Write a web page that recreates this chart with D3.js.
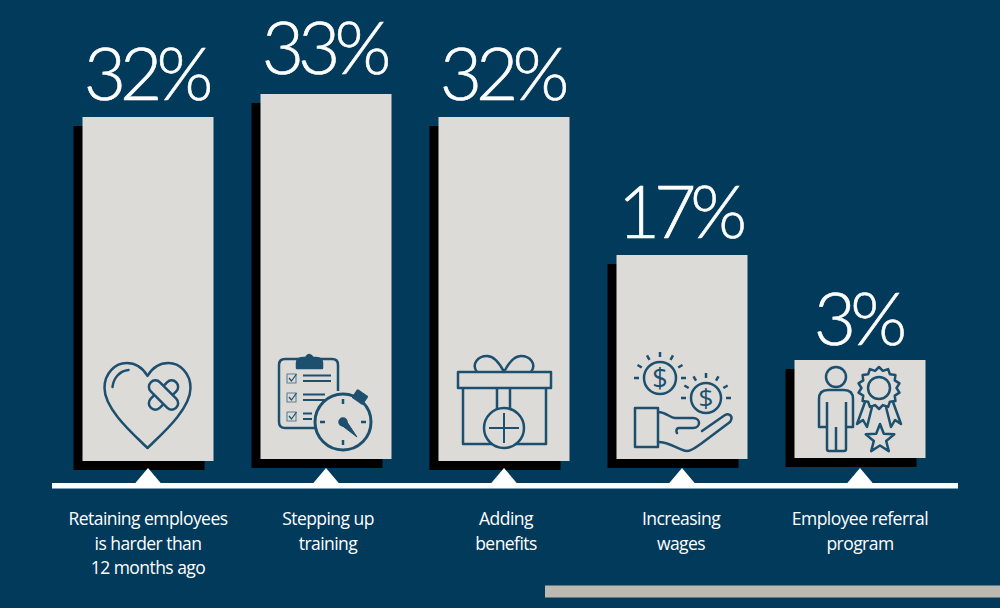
<!DOCTYPE html>
<html><head><meta charset="utf-8">
<script src="https://cdn.jsdelivr.net/npm/d3@7/dist/d3.min.js"></script>
<style>html,body{margin:0;padding:0;background:#023a5c}svg{display:block}</style>
</head><body><svg id="c" width="1000" height="608"></svg>
<script>
const categories=["Retaining employees|is harder than|12 months ago","Stepping up|training","Adding|benefits","Increasing|wages","Employee referral|program"];
const values=[32,33,32,17,3];
const valueLabels=["32%","33%","32%","17%","3%"];
const iconNames=["heart","clock","gift","money","award"];

const BG="#023a5c",BAR="#dcdbd8",INK="#1d4f6e";
const svg=d3.select("#c");
svg.append("rect").attr("width",1000).attr("height",608).attr("fill",BG);

const x=d3.scaleBand().domain(d3.range(values.length)).range([82.5,925.5]).paddingInner(0.264).paddingOuter(0);
// The infographic's bars are not proportional: piecewise scale
const y=d3.scaleLinear().domain([3,17,32,33]).range([360,255,117,94]);
const base=d3.scaleLinear().domain([3,17,32,33]).range([458,459,461,459]);
const labelGap=d3.scaleLinear().domain([3,17,32,33]).range([15,17,17,20]);
const bw=x.bandwidth();
const cx=i=>x(i)+bw/2;

svg.selectAll("rect.shadow").data(values).join("rect").attr("class","shadow")
 .attr("x",(d,i)=>x(i)-9).attr("y",d=>y(d)+9).attr("width",bw).attr("height",d=>base(d)-y(d)).attr("fill","#000");
svg.selectAll("rect.bar").data(values).join("rect").attr("class","bar")
 .attr("x",(d,i)=>x(i)).attr("y",d=>y(d)).attr("width",bw).attr("height",d=>base(d)-y(d)).attr("fill",BAR);

svg.selectAll("text.val").data(values).join("text").attr("class","val")
 .attr("x",(d,i)=>cx(i)-2.5).attr("y",d=>y(d)-labelGap(d))
 .attr("text-anchor","middle").attr("fill","#fff").attr("stroke","#fff").attr("stroke-width",0.6)
 .style("font-family","Lato").style("font-weight",300).style("font-size","73px").style("letter-spacing","-6px")
 .text((d,i)=>valueLabels[i]);

// baseline + ticks
svg.append("rect").attr("x",52).attr("y",483).attr("width",906).attr("height",5.5).attr("fill","#fff");
svg.selectAll("path.tri").data(values).join("path").attr("class","tri")
 .attr("d",(d,i)=>`M${cx(i)-13.5},484L${cx(i)},468L${cx(i)+13.5},484Z`).attr("fill","#fff");

const labelShift=[0,2,2,-1,0];
svg.selectAll("g.lab").data(categories).join("g").attr("class","lab")
 .each(function(d,i){
  d3.select(this).selectAll("text").data(d.split("|")).join("text")
   .attr("x",cx(i)+labelShift[i]).attr("y",(t,j)=>525+j*24.5)
   .attr("text-anchor","middle").attr("fill","#fff")
   .style("font-family","'Open Sans'").style("font-size","17.5px").style("letter-spacing","-0.55px").text(t=>t);
 });

// gray strip
svg.append("rect").attr("x",545).attr("y",585.5).attr("width",455).attr("height",12).attr("fill","#bdb9b1");

// icons
const star=(n,R,r)=>d3.line().curve(d3.curveLinearClosed)(d3.range(n*2).map(i=>{const q=i%2?r:R,t=i*Math.PI/n-Math.PI/2;return [q*Math.cos(t),q*Math.sin(t)];}));
const icons={
 heart(g){
  g.append("path").attr("d","M0,43 C-12,31 -43,5 -43,-17 C-43,-32 -32,-42 -21,-42 C-11,-42 -4,-36 0,-29 C4,-36 11,-42 21,-42 C32,-42 43,-32 43,-17 C43,5 12,31 0,43Z");
  g.append("path").attr("d","M-35,-18 C-34,-27 -28,-34 -19,-35").attr("stroke-linecap","round");
  g.append("rect").attr("x",-18).attr("y",-6.5).attr("width",36).attr("height",13).attr("rx",6.5).attr("transform","translate(16,-10) rotate(-45)");
  g.append("rect").attr("x",-18).attr("y",-6.5).attr("width",36).attr("height",13).attr("rx",6.5).attr("fill",BAR).attr("transform","translate(16,-10) rotate(45)");
 },
 clock(g){
  g.append("path").attr("d","M15,35 H-24 Q-30,35 -30,29 V-28 Q-30,-34 -24,-34 H23 Q29,-34 29,-28 V-2");
  g.append("path").attr("d","M-12,-30 Q-12,-35 -6,-35 H-3 Q0,-41 4,-35 H7 Q13,-35 13,-30 V-25 H-12Z").attr("fill",INK);
  [[-19,22],[0,16],[19,3]].forEach(([dy,end])=>{
   g.append("rect").attr("x",-22).attr("y",dy).attr("width",9).attr("height",9).attr("stroke-width",1.1).attr("stroke","#5d7f94");
   g.append("path").attr("d",`M-20,${dy+4}l2.5,3l5,-7`).attr("stroke-width",1.2);
   g.append("path").attr("d",`M-6,${dy+1.5}H${end}M-6,${dy+7}H${end}`).attr("stroke-width",1.9);
  });
  g.append("circle").attr("cx",34).attr("cy",29).attr("r",28).attr("fill",BAR).attr("stroke-width",3);
  g.append("rect").attr("x",-5.5).attr("y",-4).attr("width",11).attr("height",8).attr("fill",INK).attr("transform","translate(51,4) rotate(35)");
  g.append("path").attr("d","M34,6V11M34,47V52M11,29H16M52,29H57");
  g.append("path").attr("d","M31,31 L48,44 L36,26Z").attr("fill",INK).attr("stroke-width",1);
  g.append("circle").attr("cx",34).attr("cy",29).attr("r",3.5).attr("fill",INK);
 },
 gift(g){
  g.append("path").attr("d","M-27,0 C-33,-8 -26,-16 -17,-16 C-9,-16 -3,-6 0,0 C3,-6 9,-16 17,-16 C26,-16 33,-8 27,0");
  g.append("rect").attr("x",-46).attr("y",0).attr("width",93).attr("height",16);
  g.append("path").attr("d","M-41,16 V72 H42 V16");
  g.append("path").attr("d","M-7,16 V38 M6,16 V38");
  g.append("circle").attr("cy",56).attr("r",20).attr("fill",BAR);
  g.append("path").attr("d","M0,41 V71 M-15,56 H15").attr("stroke-width",2);
 },
 money(g){
  const coin=(cx,cy,r,fs,rr)=>{
   g.append("circle").attr("cx",cx).attr("cy",cy).attr("r",r);
   g.append("text").attr("x",cx).attr("y",cy+fs*0.36).attr("text-anchor","middle").attr("fill",INK).attr("stroke","none")
    .style("font-family","'Open Sans'").style("font-size",fs+"px").text("$");
   d3.range(-180,1,30).forEach(a=>{
    const t=a*Math.PI/180;
    g.append("line").attr("x1",cx+(r+5)*Math.cos(t)).attr("y1",cy+(r+5)*Math.sin(t)).attr("x2",cx+rr*Math.cos(t)).attr("y2",cy+rr*Math.sin(t));
   });
  };
  coin(-24,-22,16,27,26);
  coin(22,-2,15,26,25);
  g.append("rect").attr("x",-49).attr("y",8).attr("width",23).attr("height",39);
  g.append("path").attr("d","M-26,12 C-18,12 -14,18 -9,18 H9 C17,18 17,28 9,28 H-5 C-8,28 -8,32 -7,33 M-26,42 C-14,42 -5,50 3,51 C8,51 12,47 18,43 L46,22 C50,16 45,13 41,15 L18,31").attr("stroke-linecap","round");
 },
 award(g){
  g.append("circle").attr("r",10);
  g.append("path").attr("d","M-9,25 V72 Q-9,74 -7,74 H8 Q10,74 10,72 V25 M-9,50 H-17 V22 Q-17,13 -8,13 H8 Q17,13 17,22 V50 H10 M0,50 V74");
  g.append("path").attr("d",star(14,21,17.5)).attr("transform","translate(43,11)");
  g.append("circle").attr("cx",43).attr("cy",11).attr("r",11);
  g.append("path").attr("d","M29,25 L21,47 L27,43 L31,50 L36,30 M57,25 L65,47 L59,43 L55,50 L50,30");
  g.append("path").attr("d",star(5,15,6.5)).attr("transform","translate(44,62)");
 }
};
const iconPos=[[147.5,405],[309,393],[504,372],[684,400],[836,377]];
iconNames.forEach((n,i)=>{
 const g=svg.append("g").attr("transform",`translate(${iconPos[i]})`).attr("fill","none").attr("stroke",INK).attr("stroke-width",2.5).attr("stroke-linejoin","round");
 icons[n](g);
});
</script></body></html>
